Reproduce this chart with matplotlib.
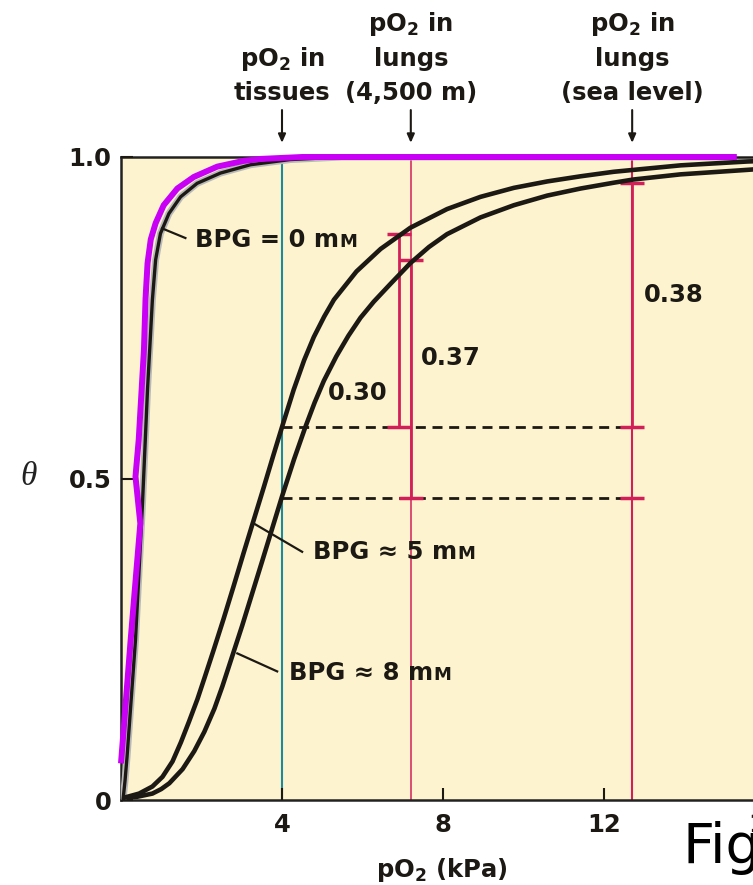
import matplotlib.pyplot as plt
from matplotlib.offsetbox import TextArea, HPacker, AnnotationBbox

# oxygen binding curves of hemoglobin at three BPG levels (theta vs pO2 in kPa)
bpg0_x = [0.05, 0.10, 0.15, 0.36, 0.53, 0.66, 0.73, 0.78, 0.86, 0.98, 1.19, 1.48, 1.89, 2.47, 3.22, 4.2, 5.5, 16.0]
bpg0_y = [0.0, 0.03, 0.067, 0.249, 0.456, 0.64, 0.72, 0.778, 0.840, 0.881, 0.912, 0.938, 0.959, 0.975, 0.988,
          0.996, 1.0, 1.0]

# hand-drawn highlight over the BPG = 0 curve
trace_x = [0.0, 0.24, 0.48, 0.36, 0.44, 0.57, 0.61, 0.66, 0.74, 0.86, 1.06, 1.40, 1.81, 2.39, 3.05, 3.47, 4.5, 15.3]
trace_y = [0.057, 0.249, 0.43, 0.503, 0.56, 0.70, 0.78, 0.835, 0.872, 0.897, 0.925, 0.951, 0.969, 0.985, 0.994,
           0.997, 1.0, 1.0]

bpg5_x = [0.10, 0.45, 0.78, 1.03, 1.28, 1.49, 1.69, 1.90, 2.07, 2.30, 2.55, 2.80, 3.05, 3.30, 3.55, 3.78,
          4.00, 4.29, 4.55, 4.79, 5.05, 5.29, 5.85, 6.45, 7.19, 8.10, 8.93, 9.76, 10.59, 11.42, 12.24,
          13.90, 15.56, 16.0]
bpg5_y = [0.004, 0.010, 0.021, 0.036, 0.060, 0.090, 0.122, 0.157, 0.189, 0.233, 0.282, 0.333, 0.385, 0.436,
          0.487, 0.535, 0.580, 0.638, 0.684, 0.720, 0.752, 0.778, 0.822, 0.857, 0.890, 0.919, 0.938, 0.952,
          0.962, 0.970, 0.977, 0.987, 0.993, 0.994]

bpg8_x = [0.12, 0.40, 0.78, 1.00, 1.20, 1.53, 1.82, 2.07, 2.32, 2.52, 2.76, 3.01, 3.50, 4.00, 4.30, 4.58,
          4.81, 5.04, 5.35, 5.65, 5.95, 6.28, 6.70, 7.19, 7.65, 8.10, 8.93, 9.76, 10.59, 11.42, 12.24,
          12.73, 13.90, 15.56, 16.0]
bpg8_y = [0.004, 0.005, 0.010, 0.017, 0.026, 0.048, 0.076, 0.106, 0.142, 0.177, 0.223, 0.271, 0.370, 0.472,
          0.530, 0.580, 0.618, 0.652, 0.690, 0.722, 0.750, 0.775, 0.803, 0.835, 0.860, 0.880, 0.906, 0.925,
          0.940, 0.951, 0.960, 0.965, 0.973, 0.980, 0.982]

# reference pressures (kPa) and saturations at the tissues
p_tissue = 4.0
p_altitude = 7.2
p_sea = 12.7
theta_tissue_5 = 0.58
theta_tissue_8 = 0.47

# oxygen delivered (change in theta) between lungs and tissues
delta_alt_5 = 0.30
delta_alt_8 = 0.37
delta_sea_5 = 0.38

x_ticks = [4, 8, 12, 16]
y_ticks = [0, 0.5, 1.0]
y_tick_labels = ['0', '0.5', '1.0']
top_labels = [['pO$_2$ in', 'tissues'],
              ['pO$_2$ in', 'lungs', '(4,500 m)'],
              ['pO$_2$ in', 'lungs', '(sea level)']]

ink = '#1c1914'
crimson = '#D21F5A'
teal = '#1B8A9A'
violet = '#C800F5'

plt.rcParams['font.family'] = ['DejaVu Sans']
plt.rcParams['font.weight'] = 'bold'
plt.rcParams['mathtext.fontset'] = 'dejavusans'
plt.rcParams['mathtext.default'] = 'bf'

fs = 17.5

fig = plt.figure(figsize=(7.53, 8.85), dpi=100)
ax = fig.add_axes([121 / 753, 85 / 885, 644 / 753, 643 / 885])
ax.set_facecolor('#FDF3CE')
ax.set_xlim(0, 16)
ax.set_ylim(0, 1)
ax.set_axisbelow(False)

for side in ['left', 'bottom', 'top']:
    ax.spines[side].set_color('#222222')
    ax.spines[side].set_linewidth(1.8)
ax.spines['right'].set_visible(False)

ax.set_xticks(x_ticks)
ax.set_xticklabels([str(t) for t in x_ticks])
ax.set_yticks(y_ticks)
ax.set_yticklabels(y_tick_labels)
ax.tick_params(direction='in', length=8.5, width=1.5, color=ink, labelsize=fs, labelcolor=ink)
ax.tick_params(axis='x', pad=9)
ax.tick_params(axis='y', pad=7)

# vertical markers for the reference pressures
ax.axvline(p_tissue, color=teal, lw=1.5, zorder=2)
ax.axvline(p_altitude, color=crimson, lw=1.1, zorder=2)
ax.axvline(p_sea, color=crimson, lw=1.5, zorder=2)

# dashed levels at the tissue saturation
dash_end = 13.0
for lvl in [theta_tissue_5, theta_tissue_8]:
    ax.plot([p_tissue, dash_end], [lvl, lvl], color=ink, lw=2, ls=(0, (3.6, 2.4)), zorder=3)

# delivery bars with caps
cap = 0.3
bars = [(p_altitude - 0.3, theta_tissue_5, delta_alt_5),
        (p_altitude, theta_tissue_8, delta_alt_8),
        (p_sea, theta_tissue_5, delta_sea_5)]
for bx, lo, d in bars:
    ax.plot([bx, bx], [lo, lo + d], color=crimson, lw=2, zorder=3)
    ax.hlines([lo, lo + d], bx - cap, bx + cap, colors=crimson, lw=2.5, zorder=3)
ax.hlines([theta_tissue_8], p_sea - cap, p_sea + cap, colors=crimson, lw=2.5, zorder=3)

ax.text(5.88, 0.633, f'{delta_alt_5:.2f}', ha='center', va='center', fontsize=fs, color=ink, zorder=6)
ax.text(8.19, 0.687, f'{delta_alt_8:.2f}', ha='center', va='center', fontsize=fs, color=ink, zorder=6)
ax.text(13.73, 0.785, f'{delta_sea_5:.2f}', ha='center', va='center', fontsize=fs, color=ink, zorder=6)

# binding curves
ax.plot(bpg0_x, bpg0_y, color='#b9b9b9', lw=5, zorder=4)
ax.plot(bpg0_x, bpg0_y, color=ink, lw=2.4, zorder=4)
ax.plot(bpg5_x, bpg5_y, color=ink, lw=3.3, zorder=4)
ax.plot(bpg8_x, bpg8_y, color=ink, lw=3.3, zorder=4)
ax.plot(trace_x, trace_y, color=violet, lw=4.3, zorder=7, clip_on=False,
        solid_capstyle='butt', solid_joinstyle='round')


def curve_label(x, y, text, lead_from, lead_to):
    ax.plot([lead_from[0], lead_to[0]], [lead_from[1], lead_to[1]], color=ink, lw=1.6, zorder=5)
    parts = HPacker(children=[TextArea(text + ' m', textprops=dict(fontsize=fs, fontweight='bold', color=ink)),
                              TextArea('M', textprops=dict(fontsize=13, fontweight='bold', color=ink))],
                    align='baseline', pad=0, sep=0)
    ab = AnnotationBbox(parts, (x, y), xycoords='data', box_alignment=(0, 0.5), frameon=False, pad=0)
    ab.set_zorder(6)
    ax.add_artist(ab)


curve_label(1.85, 0.871, 'BPG = 0', (1.02, 0.889), (1.60, 0.874))
curve_label(4.78, 0.386, 'BPG ≈ 5', (3.30, 0.430), (4.50, 0.386))
curve_label(4.17, 0.197, 'BPG ≈ 8', (2.89, 0.228), (3.88, 0.200))

# labels and arrows above the plot
trans = ax.get_xaxis_transform()
line_step = 34.5 / 643
base = 1.0 + 57 / 643
for x, lines in zip([p_tissue, p_altitude, p_sea], top_labels):
    ax.annotate('', xy=(x, 1.022), xytext=(x, 1.073), xycoords=trans, textcoords=trans,
                arrowprops=dict(arrowstyle='-|>,head_length=0.5,head_width=0.22', lw=1.5,
                                color=ink, shrinkA=0, shrinkB=0))
    for k, line in enumerate(reversed(lines)):
        ax.text(x, base + k * line_step, line, transform=trans, ha='center', va='baseline',
                fontsize=fs, color=ink)

fig.text(442 / 753, 1 - 877 / 885, 'pO$_2$ (kPa)', ha='center', va='baseline', fontsize=fs, color=ink)
fig.text(29 / 753, 1 - 477 / 885, 'θ', ha='center', va='center', fontsize=24,
         family='Liberation Serif', style='italic', fontweight='normal', color='#222222')
fig.text(683 / 753, 1 - 863 / 885, 'Fig', ha='left', va='baseline', fontsize=40,
         family='DejaVu Sans', fontweight='normal', color='black')

fig.savefig('out.png', dpi=100)
